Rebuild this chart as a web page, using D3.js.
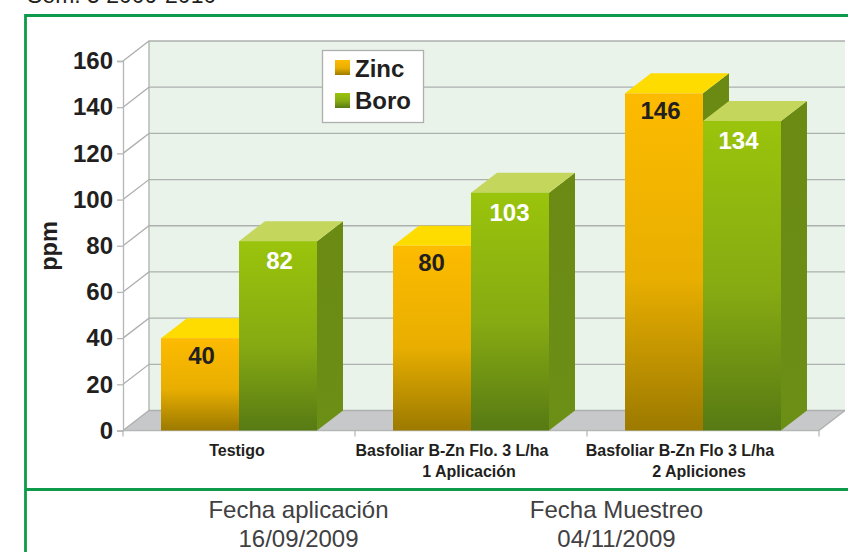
<!DOCTYPE html>
<html lang="en">
<head>
<meta charset="UTF-8">
<title>Zinc y Boro</title>
<script src="https://d3js.org/d3.v7.min.js"></script>
<style>
    html, body { margin: 0; padding: 0; background: #fff; overflow: hidden; }
    text { font-family: "Liberation Sans", Arial, sans-serif; }
</style>
</head>
<body>
<div id="chart"></div>
<script>
const categories = ["Testigo", "Basfoliar B-Zn Flo. 3 L/ha", "Basfoliar B-Zn Flo 3 L/ha"];
const categories2 = ["", "1 Aplicación", "2 Apliciones"];
const seriesNames = ["Zinc", "Boro"];
const zinc = [40, 80, 146];
const boro = [82, 103, 134];
const yTicks = [0, 20, 40, 60, 80, 100, 120, 140, 160];

const width = 848, height = 552;
const depthX = 26, depthY = 20;

const svg = d3.select("#chart").append("svg")
    .attr("width", width)
    .attr("height", height);

const defs = svg.append("defs");
function grad(id, top, mid, bottom) {
    const g = defs.append("linearGradient").attr("id", id)
        .attr("x1", 0).attr("y1", 0).attr("x2", 0).attr("y2", 1);
    g.append("stop").attr("offset", "0%").attr("stop-color", top);
    g.append("stop").attr("offset", "55%").attr("stop-color", mid);
    g.append("stop").attr("offset", "100%").attr("stop-color", bottom);
}
grad("zincFront", "#fdbb00", "#e8ae00", "#9c7a00");
grad("boroFront", "#9ac40c", "#86aa12", "#577a14");
grad("boroSide", "#6a8a14", "#6b8c15", "#6c8f16");

const y = d3.scaleLinear().domain([0, 160]).range([430.5, 61]);
const x0 = d3.scaleBand().domain(d3.range(categories.length)).range([123, 819])
    .paddingInner(0.3276).paddingOuter(0.1638);
const x1 = d3.scaleBand().domain(seriesNames).range([0, x0.bandwidth()]);

// walls
const wall = svg.append("g");
const floorY = y(0), topY = y(160);
wall.append("rect")
    .attr("x", 123 + depthX).attr("y", topY - depthY)
    .attr("width", 819 - 123).attr("height", floorY - topY)
    .attr("fill", "#e9f3ea");
wall.append("path")
    .attr("d", `M123,${floorY}L${123 + depthX},${floorY - depthY}L${819 + depthX},${floorY - depthY}L819,${floorY}Z`)
    .attr("fill", "#c7c8ca");

yTicks.forEach(t => {
    wall.append("path")
        .attr("d", `M123,${y(t)}L${123 + depthX},${y(t) - depthY}L${819 + depthX},${y(t) - depthY}`)
        .attr("fill", "none")
        .attr("stroke", "#adb0ae")
        .attr("stroke-width", 1.3);
});
wall.append("line")
    .attr("x1", 123 + depthX).attr("x2", 123 + depthX)
    .attr("y1", topY - depthY).attr("y2", floorY - depthY)
    .attr("stroke", "#adb0ae").attr("stroke-width", 1.3);
wall.append("line")
    .attr("x1", 819 + depthX).attr("x2", 819).attr("y1", floorY - depthY).attr("y2", floorY)
    .attr("stroke", "#adb0ae").attr("stroke-width", 1.3);

// y axis
const yAxis = svg.append("g")
    .attr("transform", "translate(123,0)")
    .call(d3.axisLeft(y).tickValues(yTicks).tickSize(6).tickPadding(4));
yAxis.select(".domain").attr("stroke", "#b5b7b6").attr("stroke-width", 1.3);
yAxis.selectAll(".tick line").attr("stroke", "#b5b7b6").attr("stroke-width", 1.3);
yAxis.selectAll(".tick text")
    .attr("font-size", 24).attr("font-weight", "bold").attr("fill", "#231f20")
    .style("font-family", '"Liberation Sans", Arial, sans-serif');

// x axis, ticks sit on the band edges
const xLine = svg.append("g");
xLine.append("line").attr("x1", 123).attr("x2", 819).attr("y1", floorY).attr("y2", floorY)
    .attr("stroke", "#b5b7b6").attr("stroke-width", 1.3);
d3.range(categories.length + 1).forEach(i => {
    const px = 123 + i * x0.step();
    xLine.append("line").attr("x1", px).attr("x2", px).attr("y1", floorY).attr("y2", floorY + 6)
        .attr("stroke", "#b5b7b6").attr("stroke-width", 1.3);
});

// bars
const series = [
    { name: "Zinc", values: zinc, front: "url(#zincFront)", top: "#ffdc00", side: "#6a8a14", label: "#231f20", labelDy: 25.5 },
    { name: "Boro", values: boro, front: "url(#boroFront)", top: "#c5d65c", side: "url(#boroSide)", label: "#ffffff", labelDy: 28 }
];
const labelDx = [1.5, -0.5, -3.5];
categories.forEach((c, i) => {
    // zinc first so that the boro bar covers its side face
    series.forEach(s => {
        const bx = x0(i) + x1(s.name), bw = x1.bandwidth(), by = y(s.values[i]);
        const g = svg.append("g");
        g.append("path")
            .attr("d", `M${bx + bw},${by}L${bx + bw + depthX},${by - depthY}L${bx + bw + depthX},${floorY - depthY}L${bx + bw},${floorY}Z`)
            .attr("fill", s.side);
        g.append("path")
            .attr("d", `M${bx},${by}L${bx + depthX},${by - depthY}L${bx + bw + depthX},${by - depthY}L${bx + bw},${by}Z`)
            .attr("fill", s.top);
        g.append("rect")
            .attr("x", bx).attr("y", by).attr("width", bw).attr("height", floorY - by)
            .attr("fill", s.front);
        g.append("text")
            .attr("x", bx + bw / 2 + labelDx[i]).attr("y", by + s.labelDy)
            .attr("text-anchor", "middle")
            .attr("font-size", 24).attr("font-weight", "bold")
            .attr("fill", s.label)
            .text(s.values[i]);
    });
});

// category labels, first line sits left of the band centre in the original
const line1Dx = [-2, -19, -23];
const line2Dx = [0, -2, -4];
categories.forEach((c, i) => {
    const cx = x0(i) + x0.bandwidth() / 2;
    svg.append("text").attr("x", cx + line1Dx[i]).attr("y", 456)
        .attr("text-anchor", "middle").attr("font-size", 16).attr("font-weight", "bold").attr("fill", "#231f20")
        .text(c);
    svg.append("text").attr("x", cx + line2Dx[i]).attr("y", 477)
        .attr("text-anchor", "middle").attr("font-size", 16).attr("font-weight", "bold").attr("fill", "#231f20")
        .text(categories2[i]);
});

// y title
svg.append("text")
    .attr("transform", "translate(57,246) rotate(-90)")
    .attr("text-anchor", "middle")
    .attr("font-size", 23.5).attr("font-weight", "bold").attr("fill", "#231f20")
    .text("ppm");

// legend
const legend = svg.append("g");
legend.append("rect").attr("x", 322.5).attr("y", 50.5).attr("width", 101).attr("height", 72)
    .attr("fill", "#fff").attr("stroke", "#adb0ae").attr("stroke-width", 1.3);
seriesNames.forEach((name, i) => {
    const ly = 60 + i * 33;
    legend.append("rect").attr("x", 335).attr("y", ly).attr("width", 15).attr("height", 15)
        .attr("fill", series[i].front);
    legend.append("text").attr("x", 355).attr("y", ly + 17 - i)
        .attr("font-size", 24).attr("font-weight", "bold").attr("fill", "#231f20")
        .text(name);
});

// heading, cut by the top edge of the picture
svg.append("text").attr("x", 27).attr("y", 3)
    .attr("font-size", 23).attr("fill", "#231f20")
    .text("Sem. 5 2009-2010");

// frame
const frame = svg.append("g").attr("stroke", "#0d9b4b").attr("stroke-width", 2.8).attr("fill", "none");
frame.append("path").attr("d", `M${width},15.5L25.5,15.5L25.5,${height}`);
frame.append("line").attr("x1", 25).attr("x2", width).attr("y1", 489.5).attr("y2", 489.5);

// dates
[["Fecha aplicación", "16/09/2009", 298.5], ["Fecha Muestreo", "04/11/2009", 616.5]].forEach(d => {
    svg.append("text").attr("x", d[2]).attr("y", 518)
        .attr("text-anchor", "middle").attr("font-size", 24).attr("fill", "#414042").text(d[0]);
    svg.append("text").attr("x", d[2]).attr("y", 547)
        .attr("text-anchor", "middle").attr("font-size", 24).attr("fill", "#414042").text(d[1]);
});
</script>
</body>
</html>
